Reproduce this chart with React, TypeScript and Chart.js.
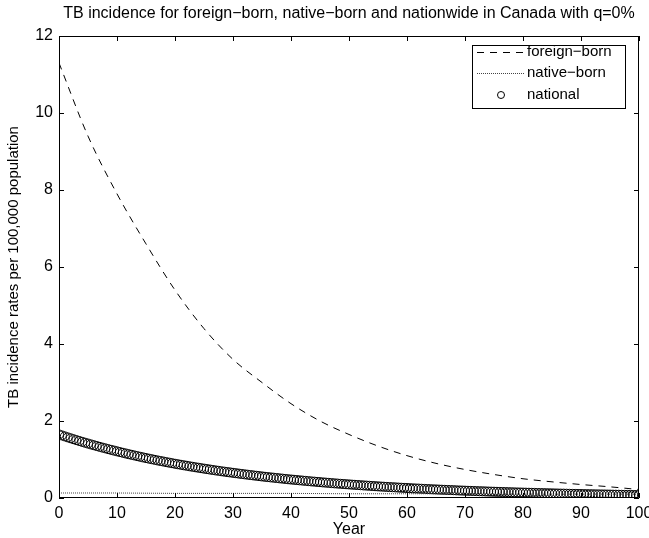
import React, { useEffect, useRef } from 'react';
import { Chart, registerables } from 'chart.js';
Chart.register(...registerables);

const titleText = 'TB incidence for foreign\u2212born, native\u2212born and nationwide in Canada with q=0%';
const xTitle = 'Year';
const yTitle = 'TB incidence rates per 100,000 population';
const legendLabels = ['foreign\u2212born', 'native\u2212born', 'national'];

const foreignYears = [0, 5, 10, 15, 20, 25, 30, 35, 40, 45, 50, 55, 60, 65, 70, 75, 80, 85, 90, 95, 100];
const foreignBorn = [11.3, 9.4, 7.9, 6.6, 5.4, 4.4, 3.6, 3.0, 2.45, 2.0, 1.65, 1.35, 1.1, 0.9, 0.74, 0.61, 0.5, 0.42, 0.35, 0.29, 0.22];

const nativeYears = [0, 10, 20, 30, 40, 50, 60, 70, 80, 90, 100];
const nativeBorn = [0.13, 0.13, 0.12, 0.12, 0.12, 0.11, 0.11, 0.11, 0.1, 0.1, 0.1];

const nationalYears = [
  0, 0.5, 1, 1.5, 2, 2.5, 3, 3.5, 4, 4.5, 5, 5.5, 6, 6.5, 7, 7.5, 8, 8.5, 9, 9.5,
  10, 10.5, 11, 11.5, 12, 12.5, 13, 13.5, 14, 14.5, 15, 15.5, 16, 16.5, 17, 17.5, 18, 18.5, 19, 19.5,
  20, 20.5, 21, 21.5, 22, 22.5, 23, 23.5, 24, 24.5, 25, 25.5, 26, 26.5, 27, 27.5, 28, 28.5, 29, 29.5,
  30, 30.5, 31, 31.5, 32, 32.5, 33, 33.5, 34, 34.5, 35, 35.5, 36, 36.5, 37, 37.5, 38, 38.5, 39, 39.5,
  40, 40.5, 41, 41.5, 42, 42.5, 43, 43.5, 44, 44.5, 45, 45.5, 46, 46.5, 47, 47.5, 48, 48.5, 49, 49.5,
  50, 50.5, 51, 51.5, 52, 52.5, 53, 53.5, 54, 54.5, 55, 55.5, 56, 56.5, 57, 57.5, 58, 58.5, 59, 59.5,
  60, 60.5, 61, 61.5, 62, 62.5, 63, 63.5, 64, 64.5, 65, 65.5, 66, 66.5, 67, 67.5, 68, 68.5, 69, 69.5,
  70, 70.5, 71, 71.5, 72, 72.5, 73, 73.5, 74, 74.5, 75, 75.5, 76, 76.5, 77, 77.5, 78, 78.5, 79, 79.5,
  80, 80.5, 81, 81.5, 82, 82.5, 83, 83.5, 84, 84.5, 85, 85.5, 86, 86.5, 87, 87.5, 88, 88.5, 89, 89.5,
  90, 90.5, 91, 91.5, 92, 92.5, 93, 93.5, 94, 94.5, 95, 95.5, 96, 96.5, 97, 97.5, 98, 98.5, 99, 99.5,
  100,
];
const national = [
  1.65, 1.625, 1.6, 1.575, 1.551, 1.527, 1.504, 1.481, 1.458, 1.436, 1.414, 1.392, 1.371, 1.35, 1.329, 1.309, 1.289, 1.269, 1.25, 1.231,
  1.212, 1.193, 1.175, 1.157, 1.139, 1.122, 1.105, 1.088, 1.071, 1.054, 1.038, 1.022, 1.007, 0.991, 0.976, 0.961, 0.947, 0.932, 0.918, 0.904,
  0.89, 0.876, 0.863, 0.85, 0.837, 0.824, 0.811, 0.799, 0.787, 0.775, 0.763, 0.751, 0.74, 0.728, 0.717, 0.706, 0.695, 0.684, 0.674, 0.664,
  0.654, 0.644, 0.634, 0.624, 0.615, 0.605, 0.596, 0.587, 0.578, 0.569, 0.56, 0.551, 0.543, 0.535, 0.527, 0.519, 0.511, 0.503, 0.495, 0.487,
  0.48, 0.473, 0.466, 0.459, 0.452, 0.445, 0.438, 0.431, 0.425, 0.418, 0.412, 0.405, 0.399, 0.393, 0.387, 0.381, 0.375, 0.369, 0.364, 0.358,
  0.353, 0.347, 0.342, 0.337, 0.332, 0.327, 0.322, 0.317, 0.312, 0.307, 0.302, 0.297, 0.293, 0.288, 0.284, 0.28, 0.276, 0.271, 0.267, 0.263,
  0.259, 0.255, 0.251, 0.247, 0.244, 0.24, 0.236, 0.232, 0.229, 0.225, 0.222, 0.218, 0.215, 0.212, 0.209, 0.206, 0.203, 0.199, 0.196, 0.193,
  0.19, 0.187, 0.185, 0.182, 0.179, 0.176, 0.174, 0.171, 0.168, 0.165, 0.163, 0.16, 0.158, 0.156, 0.154, 0.151, 0.149, 0.146, 0.144, 0.142,
  0.14, 0.138, 0.136, 0.134, 0.132, 0.13, 0.128, 0.126, 0.124, 0.122, 0.12, 0.118, 0.116, 0.114, 0.113, 0.111, 0.109, 0.107, 0.106, 0.104,
  0.103, 0.101, 0.1, 0.098, 0.097, 0.095, 0.094, 0.092, 0.091, 0.089, 0.088, 0.086, 0.085, 0.084, 0.083, 0.081, 0.08, 0.079, 0.078, 0.076,
  0.075,
];

const FONT = 'Liberation Sans, Arial, Helvetica, sans-serif';

const framePlugin = {
  id: 'frame',
  afterDraw(chart: any) {
    const { ctx, chartArea } = chart;
    const { left, right, top, bottom } = chartArea;
    const xs = chart.scales.x;
    const ys = chart.scales.y;
    ctx.save();
    ctx.strokeStyle = '#000';
    ctx.lineWidth = 1;
    ctx.beginPath();
    ctx.rect(left + 0.5, top + 0.5, right - left - 1, bottom - top - 1);
    ctx.stroke();
    const tl = 5;
    ctx.beginPath();
    xs.ticks.forEach((t: any) => {
      const px = Math.round(xs.getPixelForValue(t.value)) + 0.5;
      ctx.moveTo(px, bottom);
      ctx.lineTo(px, bottom - tl);
      ctx.moveTo(px, top);
      ctx.lineTo(px, top + tl);
    });
    ys.ticks.forEach((t: any) => {
      const py = Math.round(ys.getPixelForValue(t.value)) + 0.5;
      ctx.moveTo(left, py);
      ctx.lineTo(left + tl, py);
      ctx.moveTo(right, py);
      ctx.lineTo(right - tl, py);
    });
    ctx.stroke();

    // title
    ctx.fillStyle = '#000';
    ctx.font = `16px ${FONT}`;
    ctx.textAlign = 'center';
    ctx.textBaseline = 'middle';
    ctx.fillText(titleText, (left + right) / 2, 14);

    // legend
    const bx = 472, by = 45, bw = 153, bh = 63;
    ctx.fillStyle = '#fff';
    ctx.fillRect(bx, by, bw, bh);
    ctx.strokeStyle = '#000';
    ctx.strokeRect(bx + 0.5, by + 0.5, bw, bh);
    const rows = [52, 73, 95];
    const sx0 = 477, sx1 = 525;
    const ds = chart.data.datasets;
    ctx.beginPath();
    ctx.setLineDash(ds[0].borderDash);
    ctx.moveTo(sx0, rows[0] + 0.5);
    ctx.lineTo(sx1, rows[0] + 0.5);
    ctx.stroke();
    ctx.beginPath();
    ctx.setLineDash(ds[1].borderDash);
    ctx.strokeStyle = ds[1].borderColor;
    ctx.moveTo(sx0, rows[1] + 0.5);
    ctx.lineTo(sx1, rows[1] + 0.5);
    ctx.stroke();
    ctx.setLineDash([]);
    ctx.strokeStyle = '#000';
    ctx.beginPath();
    ctx.arc((sx0 + sx1) / 2, rows[2], 3.5, 0, Math.PI * 2);
    ctx.stroke();
    ctx.fillStyle = '#000';
    ctx.textAlign = 'left';
    ctx.font = `15px ${FONT}`;
    legendLabels.forEach((l, i) => ctx.fillText(l, 527, rows[i]));
    ctx.restore();
  },
};

export default function App() {
  const ref = useRef<HTMLCanvasElement | null>(null);
  useEffect(() => {
    if (!ref.current) return;
    const chart = new Chart(ref.current, {
      type: 'line',
      data: {
        datasets: [
          {
            label: legendLabels[0],
            data: foreignYears.map((x, i) => ({ x, y: foreignBorn[i] })),
            borderColor: '#000',
            borderWidth: 1,
            borderDash: [7, 6],
            pointRadius: 0,
            cubicInterpolationMode: 'monotone',
            fill: false,
          },
          {
            label: legendLabels[1],
            data: nativeYears.map((x, i) => ({ x, y: nativeBorn[i] })),
            borderColor: '#444',
            borderWidth: 1,
            borderDash: [1, 1],
            pointRadius: 0,
            fill: false,
          },
          {
            label: legendLabels[2],
            data: nationalYears.map((x, i) => ({ x, y: national[i] })),
            borderColor: '#000',
            backgroundColor: 'rgba(0,0,0,0)',
            showLine: false,
            pointStyle: 'circle',
            pointRadius: 4.5,
            pointBorderWidth: 1,
            pointBorderColor: '#000',
            pointBackgroundColor: 'rgba(0,0,0,0)',
          },
        ],
      },
      options: {
        responsive: false,
        animation: false,
        layout: { padding: { top: 36, left: 0, right: 10, bottom: 0 } },
        plugins: {
          legend: { display: false },
          title: { display: false },
          tooltip: { enabled: false },
        },
        scales: {
          x: {
            type: 'linear',
            min: 0,
            max: 100,
            grid: { display: false, drawTicks: false },
            border: { display: false },
            ticks: { stepSize: 10, color: '#000', padding: 6, maxRotation: 0, font: { family: FONT, size: 16 } },
            title: { display: true, text: xTitle, color: '#000', padding: { top: 0, bottom: 0 }, font: { family: FONT, size: 16, lineHeight: 1.0 } },
            afterFit(scale: any) {
              scale.height = 40;
              scale.paddingLeft = 0;
              scale.paddingRight = 0;
            },
          },
          y: {
            min: 0,
            max: 12,
            grid: { display: false, drawTicks: false },
            border: { display: false },
            ticks: { stepSize: 2, color: '#000', padding: 6, font: { family: FONT, size: 16 } },
            title: { display: true, text: yTitle, color: '#000', padding: { top: 5, bottom: 0 }, font: { family: FONT, size: 15 } },
            afterFit(scale: any) {
              scale.width = 59;
              scale.paddingTop = 0;
              scale.paddingBottom = 0;
            },
          },
        },
      },
      plugins: [framePlugin],
    });
    return () => chart.destroy();
  }, []);
  return (
    <div style={{ position: 'absolute', left: 0, top: 0, width: 649, height: 538 }}>
      <canvas ref={ref} width={649} height={538} />
    </div>
  );
}
